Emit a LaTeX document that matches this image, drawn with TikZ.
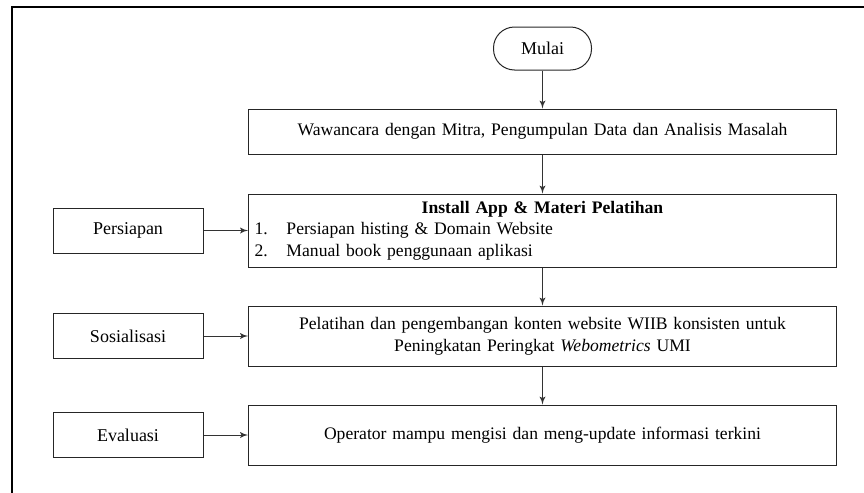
\documentclass[tikz,border=0pt]{standalone}
\usepackage{fontspec}
\setmainfont{Liberation Serif}
\usetikzlibrary{shapes,arrows}
\tikzstyle{step box} = [rectangle, draw=black!85, line width=0.5pt, text width=290pt,
    align=center, inner sep=2pt, font=\fontsize{8.8}{10.8}\selectfont]
\tikzstyle{side box} = [rectangle, draw=black!85, line width=0.5pt, minimum width=75pt,
    minimum height=22.5pt, inner sep=2pt, font=\fontsize{9}{10.8}\selectfont]
\tikzstyle{terminal} = [rectangle, draw=black!85, line width=0.5pt, rounded corners=10.5pt,
    minimum width=49pt, minimum height=21.5pt, font=\fontsize{9}{10.8}\selectfont]
\tikzstyle{line} = [draw, black!80, line width=0.4pt, -latex']

\begin{document}
\begin{tikzpicture}[x=0.5pt, y=0.5pt, node distance=207.25pt]
  \useasboundingbox (0,0) rectangle (864,-493);
  \draw [line width=1pt] (12,-493) -- (12,-7) -- (864,-7);
  \node [terminal] (mulai) at (542.5,-48.5) {Mulai};
  \node [step box, minimum height=22.5pt, below of=mulai, node distance=41.5pt] (interview) {Wawancara dengan Mitra, Pengumpulan Data dan Analisis Masalah};
  \path [line] (mulai) -- (interview);
  \node [step box, minimum height=36.5pt, below of=interview, node distance=49.5pt] (install) {\textbf{Install App \& Materi Pelatihan}\\
    \makebox[290pt][l]{\hspace{1pt}\makebox[16pt][l]{1.}Persiapan histing \& Domain Website}\\
    \makebox[290pt][l]{\hspace{1pt}\makebox[16pt][l]{2.}Manual book penggunaan aplikasi}};
  \path [line] (interview) -- (install);
  \node [step box, minimum height=30pt, below of=install, node distance=52.75pt] (training) {Pelatihan dan pengembangan konten website WIIB konsisten untuk\\ Peningkatan Peringkat \textit{Webometrics} UMI};
  \path [line] (install) -- (training);
  \node [step box, minimum height=30pt, below of=training, node distance=49.5pt] (operator) {Operator mampu mengisi dan meng-update informasi terkini};
  \path [line] (training) -- (operator);
  \node [side box, left of=install] (persiapan) {Persiapan};
  \path [line] (persiapan) -- (install);
  \node [side box, left of=training] (sosialisasi) {Sosialisasi};
  \path [line] (sosialisasi) -- (training);
  \node [side box, left of=operator] (evaluasi) {Evaluasi};
  \path [line] (evaluasi) -- (operator);
\end{tikzpicture}
\end{document}
